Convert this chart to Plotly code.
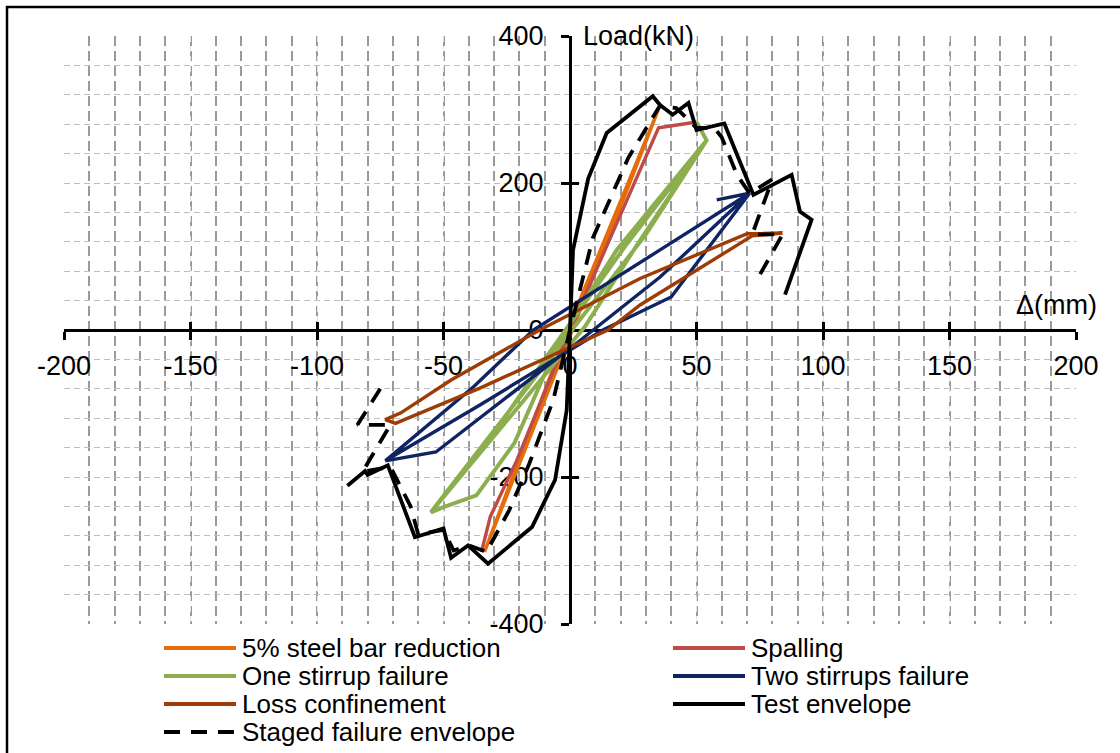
import plotly.graph_objects as go

FONT = "Liberation Sans, Arial, sans-serif"

# ---- load-displacement paths: displacement (mm), load (kN) ----
steel_x = [0, 35.5, 1.0, -33.8, -1.0, 35.5]
steel_y = [0, 305, 0, -302, 0, 305]

spall_x = [-35, -31.5, -21, 0, 35, 50]
spall_y = [-302, -254, -177, 0, 275, 283]

one_x = [50, 54, 26, 6, -55, -50, -37, -22, -4, 18.5, 54, 30, -33, -55, -30, -8, 22, 54]
one_y = [283, 258, 113, 5, -248, -241, -225, -154, -13, 109, 258, 130, -150, -248, -140, -30, 115, 258]

two_x = [58, 71, 40, 13, -35.6, -73, -53, -31.6, 2.6, 35.6, 71, 35.6, -14.5, -38, -73]
two_y = [177, 186, 45, 0, -102, -178, -166, -109, -18, 72, 186, 109, 0, -77, -178]

loss_x = [84, 72, 27.7, 15, -35.6, -69, -73, -67, -47, -12, 27.7, 70, 84]
loss_y = [132, 128, 34, 0, -79, -127, -122, -113, -68, 0, 70, 131, 132]

test_x = [-88, -81, -80, -72, -61.3, -50, -47, -40.3, -32.4, -15, -5.9, -1.3, 0,
          1.2, 7.2, 14.5, 32.7, 35.6, 40.6, 46.8, 50, 56, 61, 72.5, 87.6, 90.9, 95.5, 85]
test_y = [-212, -192, -197, -184, -282, -270, -310, -293, -318, -268, -204, -109, 0,
          109, 206, 268, 318, 306, 293, 309, 272, 277, 281, 184, 211, 161, 150, 48]

staged_x = [-75, -84, -71, -82, -71, -63, -60, -50, -46, -40, -33, -24, -16, -6.6, 0,
            9, 23, 35.5, 42, 47, 50, 57, 60, 66, 71, 80, 72, 84, 75]
staged_y = [-80, -129, -129, -193, -186, -240, -278, -272, -300, -293, -302, -245, -181, -95, 0,
            125, 234, 305, 302, 286, 275, 275, 262, 211, 186, 205, 130, 130, 75]

# ---- axis ticks ----
x_ticks = [-200, -150, -100, -50, 0, 50, 100, 150, 200]
x_tick_text = ["-200", "-150", "-100", "-50", "0", "50", "100", "150", "200"]
y_ticks = [-400, -200, 0, 200, 400]
y_tick_text = ["-400", "-200", "0", "200", "400"]

series = [
    ("5% steel bar reduction", steel_x, steel_y, "#E46C0A", 3.4, "solid"),
    ("Spalling", spall_x, spall_y, "#BE4B48", 3.4, "solid"),
    ("One stirrup failure", one_x, one_y, "#8CAE4F", 4.0, "solid"),
    ("Two stirrups failure", two_x, two_y, "#0F2462", 3.4, "solid"),
    ("Loss confinement", loss_x, loss_y, "#9E3C06", 3.4, "solid"),
    ("Test envelope", test_x, test_y, "#000000", 3.8, "solid"),
    ("Staged failure envelope", staged_x, staged_y, "#000000", 3.8, "16px,11px"),
]

W, H = 1120, 753
ML, MR, MT, MB = 64, 44, 36, 129
PW, PH = W - ML - MR, H - MT - MB


def px_to_paper(px, py):
    return (px - ML) / PW, (H - MB - py) / PH


fig = go.Figure()
for name, xs, ys, color, width, dash in series:
    fig.add_trace(go.Scatter(
        x=xs, y=ys, mode="lines", name=name, showlegend=False,
        line=dict(color=color, width=width, dash=dash),
        hoverinfo="skip",
    ))

# empty trace that carries the overlay axes used for the upper/right tick halves
fig.add_trace(go.Scatter(x=[None], y=[None], xaxis="x2", yaxis="y2",
                         showlegend=False, hoverinfo="skip"))

axis_font = dict(family=FONT, size=27, color="#000000")
common = dict(showline=True, linecolor="#000000", linewidth=3, zeroline=False,
              ticks="outside", ticklen=8, tickwidth=3, tickcolor="#000000",
              tickmode="array", tickfont=axis_font, layer="below traces",
              anchor="free", position=0.5, fixedrange=True)

fig.update_layout(
    width=W, height=H,
    margin=dict(l=ML, r=MR, t=MT, b=MB),
    paper_bgcolor="white", plot_bgcolor="white",
    font=dict(family=FONT, color="#000000"),
    xaxis=dict(range=[-200, 200], tickvals=x_ticks, ticktext=x_tick_text,
               showgrid=True, gridcolor="#E3E3E3", gridwidth=1, griddash="6px,4px",
               minor=dict(tickmode="linear", tick0=0, dtick=10, showgrid=True,
                          gridcolor="#9A9A9A", gridwidth=1.5, griddash="10px,5px", ticks=""),
               ticklabelstandoff=3, **common),
    yaxis=dict(range=[-400, 400], tickvals=y_ticks, ticktext=y_tick_text,
               showgrid=True, gridcolor="#BEBEBE", gridwidth=1, griddash="6px,4px",
               minor=dict(tickmode="linear", tick0=0, dtick=40, showgrid=True,
                          gridcolor="#BEBEBE", gridwidth=1, griddash="6px,4px", ticks=""),
               ticklabelstandoff=12, **common),
    xaxis2=dict(range=[-200, 200], overlaying="x", anchor="free", position=0.5,
                tickmode="array", tickvals=x_ticks, ticks="inside", ticklen=8,
                tickwidth=3, tickcolor="#000000", showticklabels=False,
                showgrid=False, showline=False, zeroline=False, layer="below traces",
                fixedrange=True),
    yaxis2=dict(range=[-400, 400], overlaying="y", anchor="free", position=0.5,
                tickmode="array", tickvals=y_ticks, ticks="inside", ticklen=8,
                tickwidth=3, tickcolor="#000000", showticklabels=False,
                showgrid=False, showline=False, zeroline=False, layer="below traces",
                fixedrange=True),
    showlegend=False,
)

# axis titles placed at the ends of the crossing axes
fig.add_annotation(x=0, y=400, xref="x", yref="y", text="Load(kN)", showarrow=False,
                   xanchor="left", yanchor="middle", xshift=11,
                   font=dict(family=FONT, size=27, color="#000000"))
fig.add_annotation(x=200, y=0, xref="x", yref="y", text="Δ(mm)", showarrow=False,
                   xanchor="right", yanchor="middle", xshift=23, yshift=25,
                   font=dict(family=FONT, size=27, color="#000000"))

# legend: two columns, four rows below the plot
col_px = [164, 673]
row_px = [648, 676, 704, 732]
sample_len = 72
for i, (name, _, _, color, width, dash) in enumerate(series):
    cx = col_px[i % 2]
    ry = row_px[i // 2]
    x0, y0 = px_to_paper(cx, ry)
    x1, _ = px_to_paper(cx + sample_len, ry)
    fig.add_shape(type="line", xref="paper", yref="paper", x0=x0, x1=x1, y0=y0, y1=y0,
                  line=dict(color=color, width=4, dash=dash if dash != "solid" else None))
    tx, _ = px_to_paper(cx + sample_len + 4, ry)
    fig.add_annotation(x=tx, y=y0, xref="paper", yref="paper", text=name, showarrow=False,
                       xanchor="left", yanchor="middle",
                       font=dict(family=FONT, size=26, color="#000000"))

# outer chart frame
bx0, by0 = px_to_paper(7, 7)
bx1, by1 = px_to_paper(1130, 765)
fig.add_shape(type="rect", xref="paper", yref="paper", x0=bx0, y0=by1, x1=bx1, y1=by0,
              line=dict(color="#000000", width=2.5), layer="above")

fig.write_html("out.html", config={"displayModeBar": False})
